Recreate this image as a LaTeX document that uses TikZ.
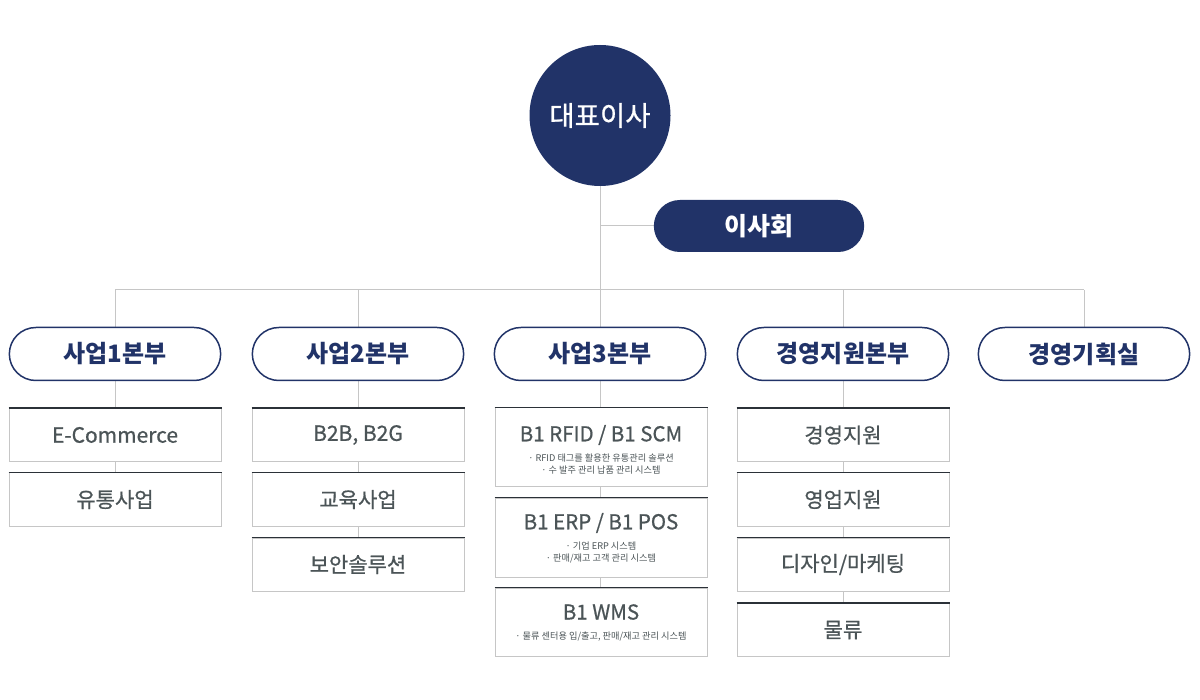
\documentclass[tikz,border=0pt]{standalone}
\usepackage{fontspec}
\setmainfont{Noto Sans CJK KR}
\newfontfamily\krmed[FakeBold=0.7]{Noto Sans CJK KR}
\definecolor{navy}{HTML}{213368}
\definecolor{txtgray}{HTML}{4B5457}
\definecolor{lngray}{HTML}{C6C6C6}
\definecolor{topdark}{HTML}{2B3138}
\tikzset{
  conn/.style={draw=lngray, line width=1pt},
  ceostyle/.style={circle, fill=navy, minimum size=141pt, inner sep=0pt, text=white, font=\krmed\fontsize{27.5}{31}\selectfont},
  boardstyle/.style={rounded rectangle, fill=navy, minimum width=217pt, minimum height=52pt, text=white, font=\fontsize{25}{29}\selectfont\bfseries},
  pill/.style={rounded rectangle, draw=navy, line width=1.5pt, fill=white, minimum width=218pt, minimum height=53pt, text=navy, font=\fontsize{24}{28}\selectfont\bfseries},
  unitbox/.style={draw=lngray, line width=1pt, fill=white, minimum width=212pt, minimum height=53pt, inner sep=0pt, text=txtgray, font=\krmed\fontsize{21}{25}\selectfont},
  tallbox/.style={unitbox, minimum height=79pt},
  wmsbox/.style={unitbox, minimum height=68pt},
  titletxt/.style={text=txtgray, font=\krmed\fontsize{20.5}{24}\selectfont, inner sep=0pt},
  subtxt/.style={text=txtgray, font=\fontsize{9.2}{12}\selectfont, align=center, inner sep=0pt},
  topline/.style={draw=topdark, line width=1.5pt}
}
\usetikzlibrary{shapes.misc}
\begin{document}
\begin{tikzpicture}[x=1pt,y=-1pt]
\useasboundingbox (0,0) rectangle (1200,700);
\fill[white] (0,0) rectangle (1200,700);
% coordinates of bus
\coordinate (bus) at (600,290);
\coordinate (busL) at (115,290);
\coordinate (busR) at (1084,290);
\coordinate (boardj) at (600,226);
% connectors (drawn first)
\draw[conn] (600,186) -- (bus);
\draw[conn] (busL) -- (busR);
\draw[conn] (boardj) -- (654,226);
% top nodes
\node[ceostyle] (ceo) at (600,115.5) {대표이사};
\node[boardstyle] (board) at (759,226) {이사회};
% vertical column connectors
\draw[conn] (115,290) -- (115,473);
\draw[conn] (358,290) -- (358,538);
\draw[conn] (600,290) -- (600,588);
\draw[conn] (843,290) -- (843,603);
\draw[conn] (1084,290) -- (1084,330);
\node[pill] (p1) at (115,354) {사업1본부};
\node[pill] (p2) at (358,354) {사업2본부};
\node[pill] (p3) at (600,354) {사업3본부};
\node[pill] (p4) at (843,354) {경영지원본부};
\node[pill] (p5) at (1084,354) {경영기획실};
% column 1
\node[unitbox] (a1) at (115,435) {E-Commerce};
\node[unitbox] (a2) at (115,499.5) {유통사업};
% column 2
\node[unitbox] (b1) at (358,435) {B2B, B2G};
\node[unitbox] (b2) at (358,499.5) {교육사업};
\node[unitbox] (b3) at (358,564.5) {보안솔루션};
% column 3
\node[tallbox] (c1) at (601,447.5) {};
\node[tallbox] (c2) at (601,537.5) {};
\node[wmsbox] (c3) at (601,622) {};
\node[titletxt] (c1t) at (601,435) {B1 RFID / B1 SCM};
\node[subtxt] (c1s) at (601,464) {· RFID 태그를 활용한 유통관리 솔루션\\· 수 발주 관리 납품 관리 시스템};
\node[titletxt] (c2t) at (601,523) {B1 ERP / B1 POS};
\node[subtxt] (c2s) at (601,553) {· 기업 ERP 시스템\\· 판매/재고 고객 관리 시스템};
\node[titletxt] (c3t) at (601,612) {B1 WMS};
\node[subtxt] (c3s) at (601,637) {· 물류 센터용 입/출고, 판매/재고 관리 시스템};
% column 4
\node[unitbox] (d1) at (843,435) {경영지원};
\node[unitbox] (d2) at (843,499.5) {영업지원};
\node[unitbox] (d3) at (843,564.5) {디자인/마케팅};
\node[unitbox] (d4) at (843,630) {물류};
% top dark lines
\foreach \b in {a1,a2,b1,b2,b3,c1,c2,c3,d1,d2,d3,d4}{
  \draw[topline] (\b.north west) -- (\b.north east);
}
\end{tikzpicture}
\end{document}
